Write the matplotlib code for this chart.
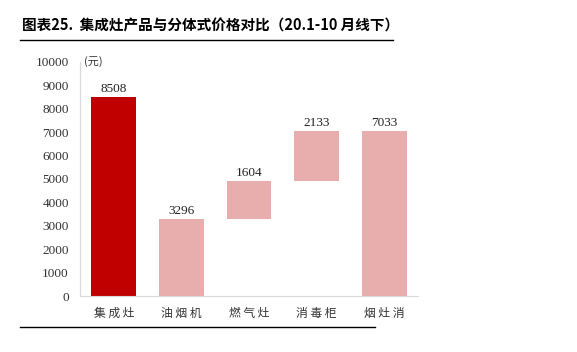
import matplotlib.pyplot as plt
from matplotlib.lines import Line2D

plt.rcParams['font.family'] = ['Liberation Serif', 'Noto Sans CJK SC', 'DejaVu Sans']

categories = ['集成灶', '油烟机', '燃气灶', '消毒柜', '烟灶消']
values = [8508, 3296, 1604, 2133, 7033]
bases = [0, 0, 3296, 4900, 0]
colors = ['#C00000', '#E8ADAD', '#E8ADAD', '#E8ADAD', '#E8ADAD']
yticks = list(range(0, 10001, 1000))

fig = plt.figure(figsize=(5.77, 3.52), dpi=100)
ax = fig.add_axes([0.1386, 0.159, 0.586, 0.665])

x = range(len(categories))
ax.bar(x, values, bottom=bases, width=0.66, color=colors)
for i, (v, b) in enumerate(zip(values, bases)):
    ax.text(i, v + b + 100, str(v), ha='center', va='bottom', fontsize=9.5, color='#222222')

ax.set_xlim(-0.5, 4.5)
ax.set_ylim(0, 10000)
ax.set_yticks(yticks)
ax.set_yticklabels([str(t) for t in yticks], fontsize=9.5, color='#333333')
ax.set_xticks(list(x))
ax.set_xticklabels([' '.join(c) for c in categories], fontsize=8.5, color='#333333',
                   family=['Noto Sans CJK SC'])
ax.tick_params(axis='x', length=0, pad=8)
ax.tick_params(axis='y', length=0, pad=8)
for s in ['top', 'right']:
    ax.spines[s].set_visible(False)
for s in ['left', 'bottom']:
    ax.spines[s].set_color('#D9D9D9')
    ax.spines[s].set_linewidth(0.8)

ax.text(0.012, 1.0, '(元)', transform=ax.transAxes, fontsize=8, va='center', ha='left',
        family=['Noto Sans CJK SC'], color='#333333')

fig.text(22 / 577, 1 - 25 / 352, '图表25.  集成灶产品与分体式价格对比（20.1-10 月线下）',
         fontsize=10.5, fontweight='bold', va='center', ha='left', family=['Noto Sans CJK SC'])
fig.add_artist(Line2D([20 / 577, 393 / 577], [1 - 40 / 352, 1 - 40 / 352], color='black', lw=1))
fig.add_artist(Line2D([20 / 577, 375 / 577], [1 - 327 / 352, 1 - 327 / 352], color='black', lw=1))

fig.savefig('out.png', dpi=100)
